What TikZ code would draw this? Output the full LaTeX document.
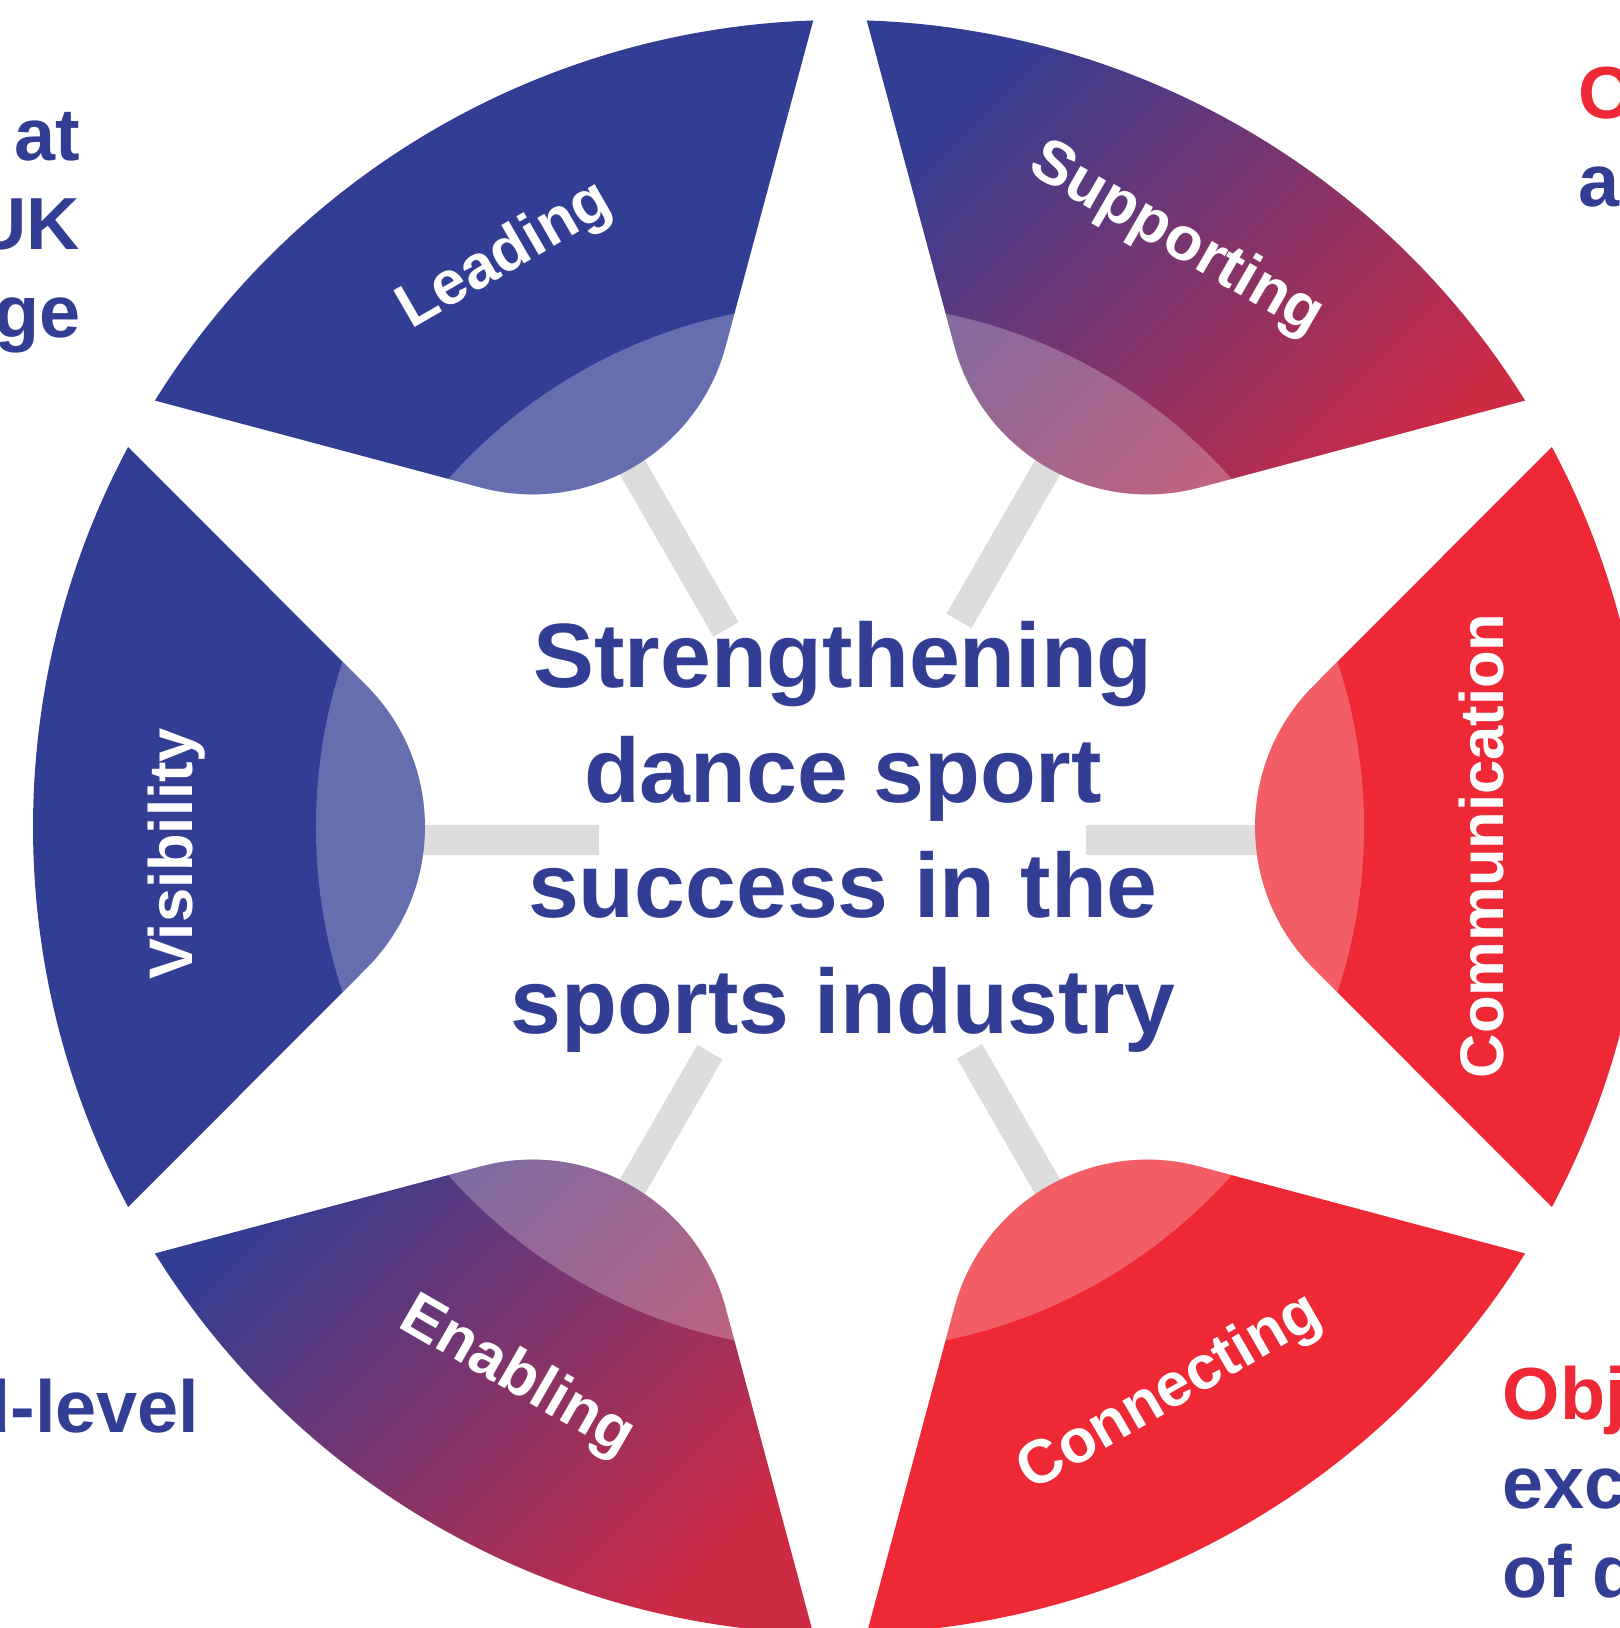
\documentclass[tikz,border=0pt]{standalone}
\usepackage{fontspec}
\setmainfont{Liberation Sans}
\usepackage{tikz}
\definecolor{dsblue}{RGB}{50,62,148}
\definecolor{dsred}{RGB}{238,40,52}
\definecolor{dscrimson}{RGB}{205,42,68}
\definecolor{spokegray}{RGB}{221,221,221}

% terälehti: ulkokaari, suora sivu, sisäympyrän kaari
\newcommand{\petal}[1]{(#1-28.1:8.07) arc[start angle=#1-28.1, end angle=#1+28.1, radius=8.07]
  -- (#1+16.62:4.943) arc[start angle=#1+135, end angle=#1+225, radius=2] -- cycle}

\begin{document}
\begin{tikzpicture}[
  lbl/.style={text=white,anchor=mid,font=\bfseries\fontsize{17.5}{20}\selectfont},
  spoke/.style={draw=spokegray,line width=2.9mm},
  core/.style={text=dsblue,align=center,font=\bfseries\fontsize{26}{32.8}\selectfont},
  side/.style={text=dsblue,inner sep=0pt,font=\bfseries\fontsize{21}{25.2}\selectfont},
  glow/.style={path picture={\fill[white,fill opacity=.25] (0,0) circle (5.24);}},
  mix/.style={top color=dsblue,bottom color=dscrimson,shading angle=45}
]
\useasboundingbox (-8.40,-8.01) rectangle (7.79,8.27);

% harmaat puolat
\draw[spoke] (120:2.28) -- (120:4.4);
\draw[spoke] (60:2.38) -- (60:4.4);
\draw[spoke] ([yshift=-1.3mm]0:2.46) -- ([yshift=-1.3mm]0:4.4);
\draw[spoke] (300:2.59) -- (300:4.4);
\draw[spoke] (240:2.60) -- (240:4.4);
\draw[spoke] ([yshift=-1.3mm]180:2.41) -- ([yshift=-1.3mm]180:4.4);

% terälehdet
\fill[dsblue,glow] \petal{120};
\shade[mix,glow] \petal{60};
\fill[dsred,glow] \petal{0};
\fill[dsred,glow] \petal{300};
\shade[mix,glow] \petal{240};
\fill[dsblue,glow] \petal{180};

\node[lbl,rotate=30] (leading) at (120.4:6.55) {Leading};
\node[lbl,rotate=-30] (supporting) at (60.2:6.7) {Supporting};
\node[lbl,rotate=90] (communication) at (-1.66:6.55) {Communication};
\node[lbl,rotate=30] (connecting) at (-59.75:6.62) {Connecting};
\node[lbl,rotate=-30] (enabling) at (239.6:6.45) {Enabling};
\node[lbl,rotate=90] (visibility) at (182.36:6.57) {Visibility};

% base = viimeisen rivin perusviiva
\node[core,anchor=base] (goal) at (0.03,-2.06) {Strengthening\\dance sport\\success in the\\sports industry};

% reunojen tekstit
\node[side,align=right,anchor=base east] (topleft) at (-7.59,4.89) {at\\UK\\ge};
\node[side,align=left,anchor=base west] (topright) at (7.38,6.20) {\textcolor{dsred}{O}\\a};
\node[side,anchor=base east] (bottomleft) at (-6.40,-6.05) {d-level};
\node[side,align=left,anchor=base west] (bottomright) at (6.62,-7.70) {\textcolor{dsred}{Obj}\\exc\\of d};
\end{tikzpicture}
\end{document}
